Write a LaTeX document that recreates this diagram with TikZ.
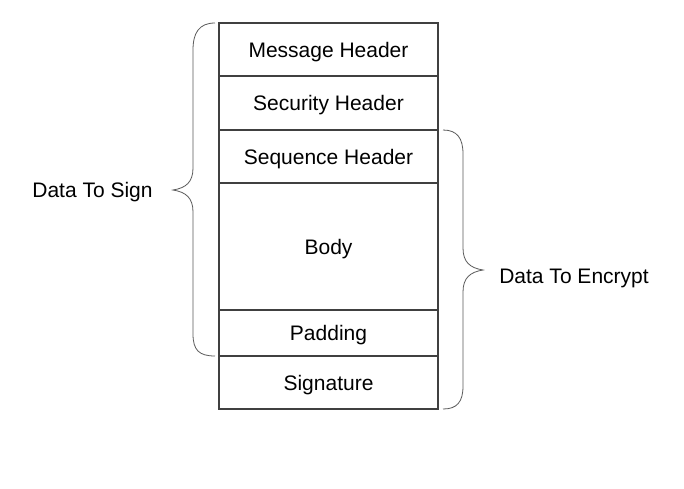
\documentclass[tikz,border=0pt]{standalone}
\usepackage{fontspec}
\setmainfont{Liberation Sans}
\usetikzlibrary{calc}
\definecolor{boxline}{HTML}{404040}
\definecolor{braceline}{HTML}{5A5A5A}
\begin{document}
\begin{tikzpicture}[x=1pt,y=-1pt,
  cell/.style={draw=boxline, line width=1.2pt, minimum width=219pt, inner sep=0pt, outer sep=0pt,
    text height=15pt, text depth=0pt, font=\fontsize{21}{25}\selectfont},
  bracestyle/.style={draw=braceline, line width=0.8pt},
  lbl/.style={anchor=base, inner sep=0pt, font=\fontsize{21}{25}\selectfont}]
\useasboundingbox (0,0) rectangle (684,488);
\fill[white] (0,0) rectangle (684,488);
\node[cell, minimum height=53pt] (mh) at (328.5,49.5) {Message Header};
\node[cell, minimum height=54pt] (sh) at (328.5,103) {Security Header};
\node[cell, minimum height=53pt] (qh) at (328.5,156.5) {Sequence Header};
\node[cell, minimum height=127pt] (body) at (328.5,246.5) {Body};
\node[cell, minimum height=46pt] (pad) at (328.5,333) {Padding};
\node[cell, minimum height=53pt] (sig) at (328.5,382.5) {Signature};
% left brace
\coordinate (ls) at ($(mh.north west)+(-4,0)$);
\coordinate (le) at ($(pad.south west)+(-4,0)$);
\node[lbl] (sign) at (92.5,197) {Data To Sign};
\coordinate (lt) at (173,190);
\path[bracestyle] (ls) .. controls (199,23) and (193,33) .. (193,50)
  -- (193,168) .. controls (193,182) and (186,188) .. (lt)
  .. controls (186,192) and (193,198) .. (193,212)
  -- (193,334) .. controls (193,350) and (199,356) .. (le);
% right brace
\coordinate (rs) at ($(qh.north east)+(5,0)$);
\coordinate (re) at ($(sig.south east)+(5,0)$);
\coordinate (rt) at (483,270);
\node[lbl] (enc) at (574,283) {Data To Encrypt};
\path[bracestyle] (rs) .. controls (457,130) and (463,138) .. (463,154)
  -- (463,248) .. controls (463,262) and (470,268) .. (rt)
  .. controls (470,272) and (463,278) .. (463,292)
  -- (463,386) .. controls (463,402) and (457,409) .. (re);
\end{tikzpicture}
\end{document}
